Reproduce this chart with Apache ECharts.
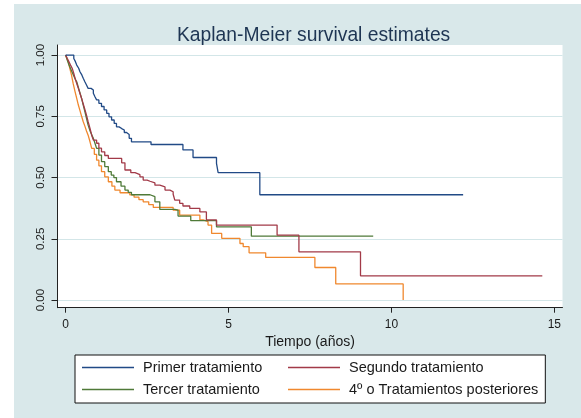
<!DOCTYPE html>
<html>
<head>
<meta charset="utf-8">
<script src="https://cdn.jsdelivr.net/npm/echarts@6/dist/echarts.min.js"></script>
<style>
html,body{margin:0;padding:0;background:#ffffff;}
#chart{width:581px;height:418px;}
</style>
</head>
<body>
<div id="chart"></div>
<script>
// ---- data ----
var seriesNames = ['Primer tratamiento', 'Segundo tratamiento', 'Tercer tratamiento', '4\u00ba o Tratamientos posteriores'];
var xTicks = [0, 5, 10, 15];
var yTicks = [0, 0.25, 0.5, 0.75, 1];

var primerT = [0, 0.25, 0.3, 0.34, 0.4, 0.44, 0.5, 0.54, 0.59, 0.64, 0.69, 0.78, 0.85, 0.9, 0.95, 1.02, 1.1, 1.18, 1.26, 1.33, 1.41, 1.49, 1.56, 1.64, 1.72, 1.8, 1.87, 1.95, 2.02, 2.62, 3.6, 3.91, 4.63, 4.68, 5.96, 12.2];
var primerS = [1, 0.986, 0.973, 0.959, 0.946, 0.932, 0.918, 0.905, 0.891, 0.878, 0.864, 0.857, 0.844, 0.83, 0.817, 0.803, 0.79, 0.776, 0.762, 0.748, 0.735, 0.721, 0.707, 0.7, 0.694, 0.684, 0.676, 0.66, 0.646, 0.635, 0.613, 0.582, 0.558, 0.52, 0.43, 0.43];

var segundoT = [0, 0.05, 0.1, 0.15, 0.2, 0.25, 0.29, 0.34, 0.39, 0.44, 0.49, 0.54, 0.59, 0.64, 0.69, 0.75, 0.8, 0.85, 0.95, 1.02, 1.1, 1.2, 1.31, 1.72, 1.82, 2.0, 2.13, 2.28, 2.38, 2.5, 2.59, 2.74, 2.89, 3.05, 3.2, 3.3, 3.35, 3.5, 3.6, 3.81, 4.12, 4.32, 4.63, 6.49, 7.16, 9.05, 14.63];
var segundoS = [1, 0.986, 0.973, 0.959, 0.946, 0.925, 0.905, 0.884, 0.864, 0.843, 0.823, 0.8, 0.778, 0.755, 0.728, 0.7, 0.673, 0.653, 0.64, 0.62, 0.605, 0.59, 0.578, 0.56, 0.531, 0.52, 0.512, 0.503, 0.49, 0.485, 0.478, 0.469, 0.462, 0.449, 0.442, 0.432, 0.408, 0.395, 0.384, 0.374, 0.36, 0.327, 0.306, 0.265, 0.197, 0.099, 0.099];

var tercerT = [0, 0.05, 0.1, 0.15, 0.2, 0.25, 0.3, 0.34, 0.39, 0.44, 0.49, 0.54, 0.59, 0.64, 0.69, 0.75, 0.8, 0.85, 0.9, 0.95, 1.02, 1.1, 1.2, 1.31, 1.4, 1.48, 1.56, 1.7, 1.82, 1.92, 2.02, 2.59, 2.74, 2.89, 3.35, 3.45, 3.84, 4.63, 5.7, 9.44];
var tercerS = [1, 0.98, 0.96, 0.945, 0.93, 0.915, 0.9, 0.891, 0.868, 0.845, 0.823, 0.796, 0.769, 0.742, 0.714, 0.69, 0.675, 0.66, 0.64, 0.619, 0.592, 0.565, 0.545, 0.524, 0.51, 0.5, 0.483, 0.465, 0.449, 0.44, 0.43, 0.422, 0.401, 0.37, 0.367, 0.343, 0.324, 0.299, 0.261, 0.261];

var cuartoT = [0, 0.04, 0.08, 0.13, 0.18, 0.23, 0.29, 0.34, 0.39, 0.44, 0.49, 0.54, 0.59, 0.64, 0.69, 0.75, 0.8, 0.88, 0.95, 1.02, 1.1, 1.2, 1.31, 1.42, 1.51, 1.67, 1.97, 2.1, 2.25, 2.38, 2.55, 2.69, 3.3, 3.5, 4.12, 4.22, 4.37, 4.48, 4.79, 5.35, 5.45, 5.63, 6.14, 7.65, 8.29, 10.36];
var cuartoS = [1, 0.985, 0.973, 0.945, 0.918, 0.884, 0.85, 0.823, 0.796, 0.773, 0.75, 0.728, 0.71, 0.69, 0.673, 0.645, 0.619, 0.595, 0.571, 0.548, 0.524, 0.503, 0.483, 0.465, 0.449, 0.438, 0.429, 0.42, 0.41, 0.401, 0.39, 0.378, 0.367, 0.347, 0.327, 0.32, 0.306, 0.272, 0.252, 0.231, 0.218, 0.193, 0.174, 0.133, 0.066, 0];

var colors = ['#214a86', '#a23a48', '#4f7a38', '#f0882e'];

function pairs(ts, ss) {
  var out = [];
  for (var i = 0; i < ts.length; i++) out.push([ts[i], ss[i]]);
  return out;
}
var allData = [pairs(primerT, primerS), pairs(segundoT, segundoS), pairs(tercerT, tercerS), pairs(cuartoT, cuartoS)];

var FONT = '"Liberation Sans", Arial, sans-serif';
var chart = echarts.init(document.getElementById('chart'), null, {renderer: 'canvas'});

var series = seriesNames.map(function (n, i) {
  return {
    name: n,
    type: 'line',
    step: 'end',
    data: allData[i],
    showSymbol: false,
    symbol: 'none',
    lineStyle: {width: 1.3, color: colors[i]},
    itemStyle: {color: colors[i]},
    z: 10 - i
  };
});

chart.setOption({
  animation: false,
  backgroundColor: 'transparent',
  graphic: [{
    type: 'rect', z: -10, silent: true,
    shape: {x: 14, y: 4, width: 567, height: 414},
    style: {fill: '#d9e8ea'}
  }],
  title: {
    text: 'Kaplan-Meier survival estimates',
    left: 177, top: 26, padding: 0,
    textStyle: {fontFamily: FONT, fontSize: 19.3, fontWeight: 'normal', color: '#1e3553'}
  },
  grid: {
    left: 57.5, top: 45, width: 505, height: 262.7,
    show: true, backgroundColor: '#ffffff', borderWidth: 0, containLabel: false
  },
  xAxis: {
    type: 'value', min: -0.25, max: 15.25,
    name: 'Tiempo (a\u00f1os)', nameLocation: 'middle', nameGap: 21,
    nameTextStyle: {fontFamily: FONT, fontSize: 14, color: '#1a1a1a'},
    axisLine: {show: true, onZero: false, lineStyle: {color: '#222', width: 1}},
    axisTick: {show: true, length: 5, customValues: xTicks, lineStyle: {color: '#222'}},
    axisLabel: {customValues: xTicks, margin: 11, fontFamily: FONT, fontSize: 12, color: '#1a1a1a'},
    splitLine: {show: false}
  },
  yAxis: {
    type: 'value', min: -0.031, max: 1.041,
    axisLine: {show: true, onZero: false, lineStyle: {color: '#222', width: 1}},
    axisTick: {show: true, length: 6, customValues: yTicks, lineStyle: {color: '#222'}},
    axisLabel: {
      customValues: yTicks, rotate: 90, margin: 11, fontFamily: FONT, fontSize: 11.5, color: '#1a1a1a',
      formatter: function (v) { return v.toFixed(2); }
    },
    splitLine: {show: true, lineStyle: {color: '#d3e6e8', width: 1}}
  },
  legend: {
    left: 75, top: 355,
    orient: 'horizontal',
    width: 470,
    itemGap: 5,
    padding: [4, 7, 5, 7],
    backgroundColor: '#ffffff',
    borderColor: '#111',
    borderWidth: 1,
    borderRadius: 0,
    icon: 'rect',
    itemWidth: 52,
    itemHeight: 1.6,
    data: [seriesNames[0], seriesNames[1], seriesNames[2], seriesNames[3]],
    formatter: function (n) {
      var idx = seriesNames.indexOf(n);
      return (idx === 0 || idx === 2) ? '{a|' + n + '}' : '{b|' + n + '}';
    },
    textStyle: {
      fontFamily: FONT, fontSize: 14.5, color: '#1a1a1a', lineHeight: 17,
      rich: {
        a: {width: 140, padding: [0, 0, 0, 4], fontFamily: FONT, fontSize: 14.5, lineHeight: 17, color: '#1a1a1a'},
        b: {padding: [0, 0, 0, 4], fontFamily: FONT, fontSize: 14.5, lineHeight: 17, color: '#1a1a1a'}
      }
    }
  },
  series: series
});
</script>
</body>
</html>
